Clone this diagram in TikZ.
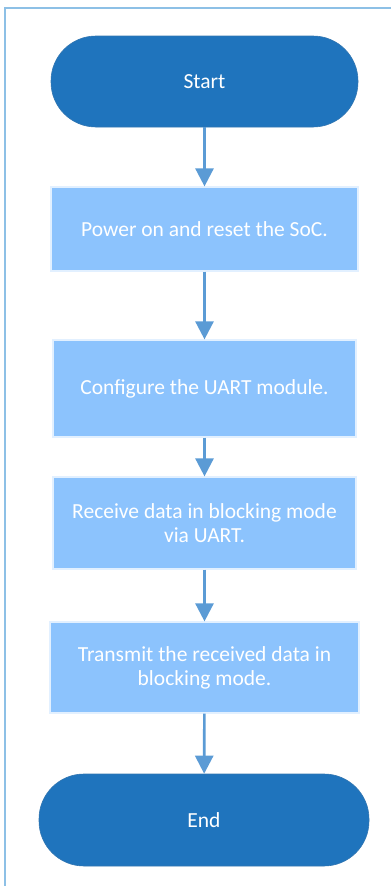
\documentclass[tikz,border=0pt]{standalone}
\usepackage{fontspec}
\setmainfont{Carlito}
\usetikzlibrary{arrows.meta}
\definecolor{termblue}{HTML}{1F74BD}
\definecolor{stepblue}{HTML}{8CC3FD}
\definecolor{arrowblue}{HTML}{5B9BD5}
\definecolor{frameblue}{HTML}{8DC0E6}
\tikzset{
  terminal/.style={rectangle, rounded corners=45pt, fill=termblue, draw=termblue!80!gray,
    line width=0.6pt, text=white, font=\fontsize{21.5}{24}\selectfont, inner sep=0pt},
  stepbox/.style={rectangle, fill=stepblue, draw=stepblue!25!white, line width=1.2pt,
    text=white, align=center, font=\fontsize{21.5}{24}\selectfont, inner sep=0pt},
  flow/.style={draw=arrowblue, line width=2.6pt, -{Triangle[width=18pt,length=18pt]}},
}
\begin{document}
\begin{tikzpicture}[x=1pt, y=-1pt]
  \useasboundingbox (0,0) rectangle (391,886);
  % 外枠 (上辺と左辺のみ見える)
  \draw[frameblue, line width=2pt] (5,886) -- (5,8) -- (391,8);
  % 処理の流れ
  \node[terminal, minimum width=307pt, minimum height=91pt] (start) at (204.5,81.5) {Start};
  \node[stepbox, minimum width=307pt, minimum height=84pt] (power) at (204.5,229) {Power on and reset the SoC.};
  \node[stepbox, minimum width=303pt, minimum height=97pt] (config) at (204.5,388.5) {Configure the UART module.};
  \node[stepbox, minimum width=303pt, minimum height=92pt] (receive) at (204.5,523) {Receive data in blocking mode\\via UART.};
  \node[stepbox, minimum width=309pt, minimum height=91pt] (transmit) at (204.5,667.5) {Transmit the received data in\\blocking mode.};
  \node[terminal, minimum width=330pt, minimum height=92pt] (finish) at (204,820) {End};
  % 矢印
  \draw[flow] (start) -- (power);
  \draw[flow] (power) -- (config);
  \draw[flow] (config) -- (receive);
  \draw[flow] (receive) -- (transmit);
  \draw[flow] (transmit) -- (finish);
\end{tikzpicture}
\end{document}
